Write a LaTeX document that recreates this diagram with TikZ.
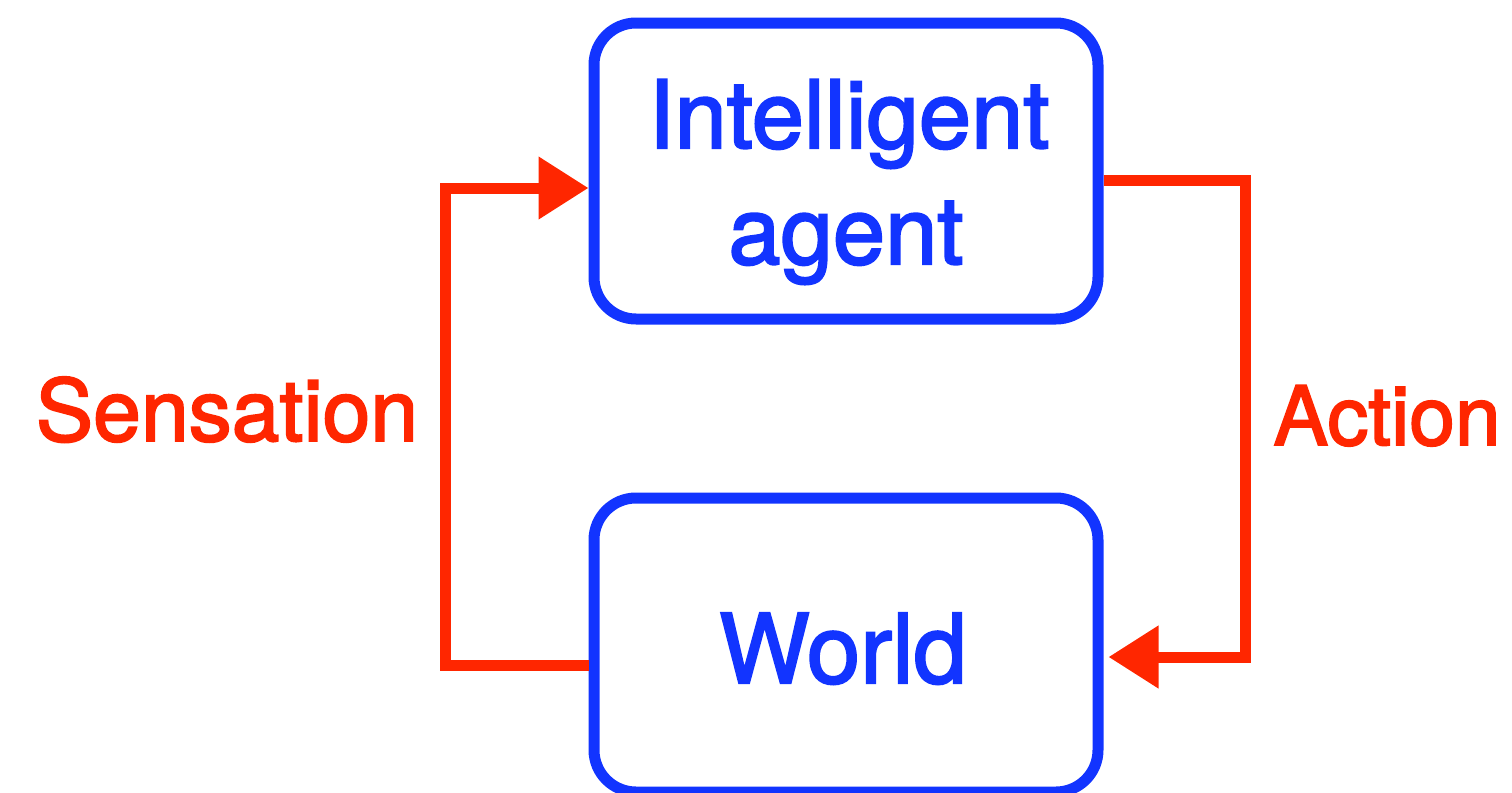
\documentclass[tikz,border=0pt]{standalone}
\usepackage{fontspec}
\setmainfont{TeX Gyre Heros}
\newfontfamily\diagfont{TeX Gyre Heros}[FakeBold=2.2]
\usetikzlibrary{arrows.meta}
\definecolor{boxblue}{RGB}{18,52,255}
\definecolor{flowred}{RGB}{255,38,0}
\tikzset{
  box/.style={draw=boxblue, line width=5.5pt, rounded corners=21pt,
    minimum width=252pt, inner sep=0pt},
  boxtext/.style={text=boxblue, inner sep=0pt, font=\diagfont\fontsize{47}{57.5}\selectfont},
  flowlabel/.style={text=flowred, inner sep=0pt, anchor=base},
  flow/.style={draw=flowred, line width=5.5pt, line join=miter,
    -{Triangle[length=25pt, width=30pt]}},
}
\begin{document}
\begin{tikzpicture}[x=0.5pt, y=-0.5pt]
  \useasboundingbox (0,0) rectangle (1512,793);

  % the two boxes
  \node[box, minimum height=148pt] (agent) at (846,171) {};
  \node[box, minimum height=147pt] (world) at (846,645) {};

  % box texts
  \node[boxtext, anchor=base] (agentA) at (849,148) {Intelligent};
  \node[boxtext, anchor=base] (agentB) at (846,264) {agent};
  \node[boxtext, anchor=base, font=\diagfont\fontsize{48}{58}\selectfont] (worldtext) at (843,683) {World};

  % feedback loop
  \draw[flow] ([yshift=-10pt]world.west) -- ++(-143,0) |- ([yshift=-8.5pt]agent.west);
  \draw[flow, shorten >=2.5pt] ([yshift=-4.5pt]agent.east) -- ++(142,0) |- ([yshift=-6pt]world.east);

  % loop labels
  \node[flowlabel, font=\diagfont\fontsize{43}{52}\selectfont] (sensation) at (227,441) {Sensation};
  \node[flowlabel, font=\diagfont\fontsize{41}{50}\selectfont] (action) at (1387,445) {Action};
\end{tikzpicture}
\end{document}
